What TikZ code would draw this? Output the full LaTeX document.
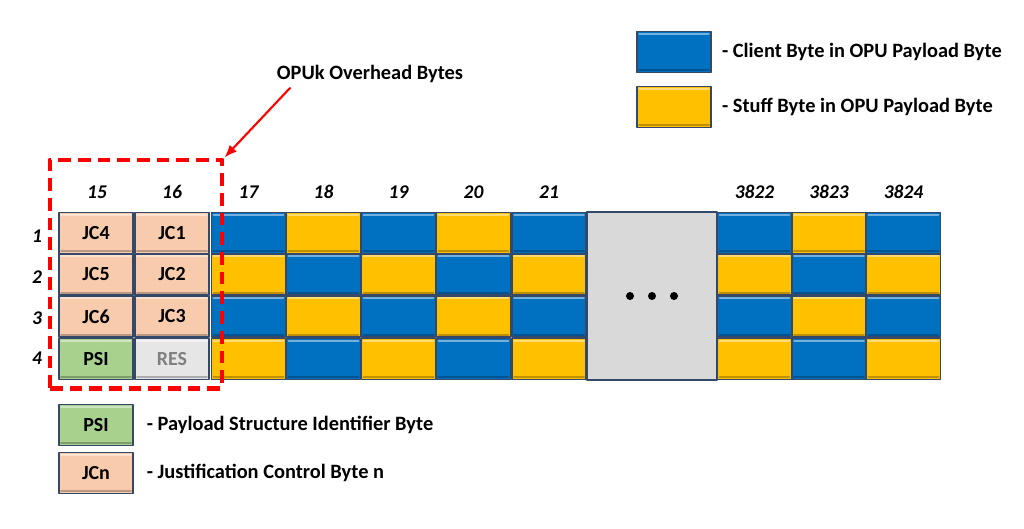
\documentclass[tikz,border=0pt]{standalone}
\usepackage{fontspec}
\setmainfont{Carlito}
\usetikzlibrary{arrows.meta,positioning}
\definecolor{clientblue}{HTML}{0070C0}
\definecolor{stuffyellow}{HTML}{FFC000}
\definecolor{jcpeach}{HTML}{F8CBAD}
\definecolor{psigreen}{HTML}{A9D18E}
\definecolor{resgray}{HTML}{E7E6E6}
\definecolor{gapgray}{HTML}{D9D9D9}
\definecolor{edgeblue}{HTML}{34496A}
\definecolor{ohred}{HTML}{FF0000}

\begin{document}
\begin{tikzpicture}[x=0.025cm,y=-0.025cm,line cap=round,line join=round,
  byte/.style={draw=edgeblue,line width=1.1pt,minimum width=1.85cm,minimum height=1.02cm,
    inner sep=0pt,font=\bfseries\fontsize{14.2}{16}\selectfont,
    path picture={
      \draw[white,opacity=0.45,line width=1.6pt]
        ([xshift=1.5pt,yshift=-1.5pt]path picture bounding box.north west) --
        ([xshift=-1.5pt,yshift=-1.5pt]path picture bounding box.north east);
      \draw[black,opacity=0.25,line width=1.6pt]
        ([xshift=1.5pt,yshift=1.5pt]path picture bounding box.south west) --
        ([xshift=-1.5pt,yshift=1.5pt]path picture bounding box.south east);}},
  collabel/.style={font=\bfseries\itshape\fontsize{13.8}{16}\selectfont},
  legtext/.style={anchor=west,inner sep=0pt,font=\bfseries\fontsize{14.5}{17}\selectfont}]
\useasboundingbox (0,0) rectangle (1024,528);

% overhead columns 15 and 16
\node[collabel] (h15) at (97,192) {15};
\node[collabel] (h16) at (172,192) {16};
\node[byte,fill=jcpeach] (c15r1) at (96,233) {JC4};
\node[byte,fill=jcpeach] (c15r2) at (96,274.5) {JC5};
\node[byte,fill=jcpeach] (c15r3) at (96,316.5) {JC6};
\node[byte,fill=psigreen] (c15r4) at (96,359) {PSI};
\node[byte,fill=jcpeach] (c16r1) at (172,233) {JC1};
\node[byte,fill=jcpeach] (c16r2) at (172,274.5) {JC2};
\node[byte,fill=jcpeach] (c16r3) at (172,316.5) {JC3};
\node[byte,fill=resgray,text=gray] (c16r4) at (172,359) {RES};

% row numbers
\foreach \r/\y in {1/236,2/277,3/318,4/358}
  \node[collabel] (row\r) at (37,\y) {\r};

% payload columns
\foreach \col/\x/\p in {17/248.5/0,18/323.5/1,19/398.5/0,20/473.5/1,21/549/0,
                       3822/754.5/0,3823/829/1,3824/903.5/0} {
  \node[collabel] (h\col) at (\x,192) {\col};
  \foreach \r/\y in {1/233,2/274.5,3/316.5,4/359} {
    \ifodd\numexpr\p+\r\relax \def\bc{clientblue}\else\def\bc{stuffyellow}\fi
    \node[byte,fill=\bc] (c\col r\r) at (\x,\y) {};
  }
}

% gap between 21 and 3822
\node[draw=edgeblue,fill=gapgray,line width=1.1pt,minimum width=3.25cm,minimum height=4.2cm,
  inner sep=0pt] (gap) at (652,296) {};
\foreach \dx in {-22,0,22}
  \fill ([xshift=\dx*0.025cm]gap.center) circle[radius=4];

% OPUk overhead marker
\node[draw=ohred,dash pattern=on 9pt off 5pt,line width=3.5pt,line cap=butt,
  minimum width=4.3cm,minimum height=5.7cm,inner sep=0pt] (ohbox) at (136,274) {};
\node[font=\bfseries\fontsize{14.5}{17}\selectfont] (ohlabel) at (370,74) {OPUk Overhead Bytes};
\coordinate (ohtail) at (290,88);
\draw[-{Latex[length=9pt,width=7pt]},ohred,line width=1.5pt] (ohtail) -- (ohbox.north east);

% legend
\node[byte,fill=clientblue] (legclient) at (674,52) {};
\node[legtext,right=0.25cm of legclient] (legclienttxt) {- Client Byte in OPU Payload Byte};
\node[byte,fill=stuffyellow] (legstuff) at (674,107) {};
\node[legtext,right=0.25cm of legstuff] (legstufftxt) {- Stuff Byte in OPU Payload Byte};
\node[byte,fill=psigreen] (legpsi) at (96,425) {PSI};
\node[legtext,right=0.32cm of legpsi] (legpsitxt) {- Payload Structure Identifier Byte};
\node[byte,fill=jcpeach] (legjc) at (96,473) {JCn};
\node[legtext,right=0.32cm of legjc] (legjctxt) {- Justification Control Byte n};
\end{tikzpicture}
\end{document}
